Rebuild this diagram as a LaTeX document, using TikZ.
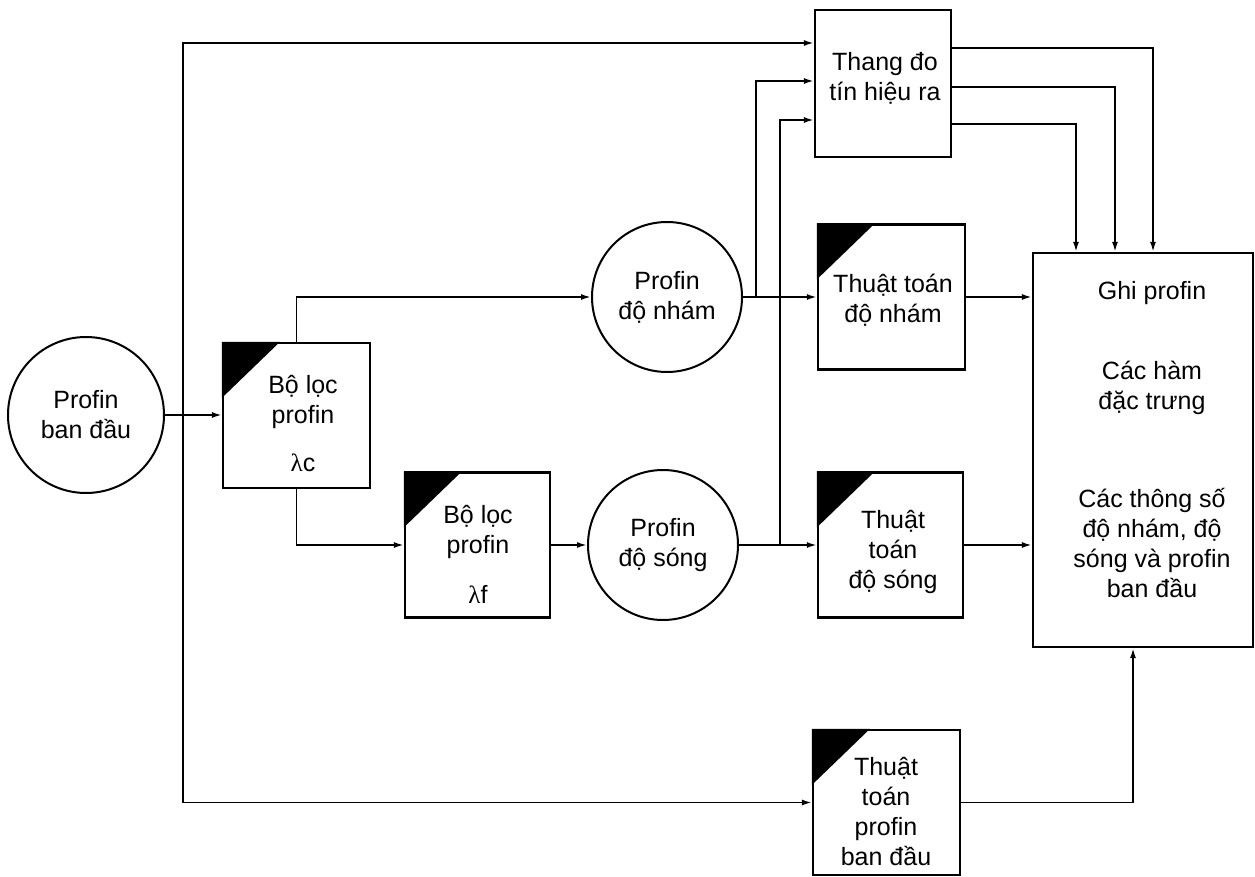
\documentclass[tikz,border=0pt]{standalone}
\usepackage{fontspec}
\setmainfont{Liberation Sans}
\newfontfamily\lamfont{Liberation Serif}
\usetikzlibrary{arrows.meta}
\tikzset{
  bx/.style={draw, line width=2.2pt, rectangle, inner sep=0pt, fill=white},
  circ/.style={draw, line width=2pt, circle, inner sep=0pt, minimum size=#1, align=center,
    font=\fontsize{25}{30}\selectfont},
  txt/.style={align=center, inner sep=0pt, font=\fontsize{25}{30}\selectfont},
  arr/.style={line width=1.8pt, -{Latex[length=10pt,width=6pt]}},
}
\newcommand{\corner}[1]{\fill (#1.north west) -- ++(58,0) -- ++(-58,56) -- cycle;}
\newcommand{\lam}{{\lamfont λ}}
\begin{document}
\begin{tikzpicture}[x=1pt,y=-1pt]
\useasboundingbox (0,0) rectangle (1255,877);
% nodes
\node[circ=156pt] (c0) at (86,415) {Profin\\ban đầu};
\node[bx, minimum width=147pt, minimum height=145pt] (f1) at (296.5,415.5) {};
\node[bx, minimum width=145pt, minimum height=145pt] (f2) at (477.5,545) {};
\node[circ=150pt] (cn) at (667,297) {Profin\\độ nhám};
\node[circ=150pt] (cs) at (663,545) {Profin\\độ sóng};
\node[bx, minimum width=136pt, minimum height=147pt] (td) at (883,83.5) {};
\node[bx, minimum width=147pt, minimum height=145pt] (tn) at (891.5,297) {};
\node[bx, minimum width=145pt, minimum height=145pt] (ts) at (890.5,545) {};
\node[bx, minimum width=220pt, minimum height=394pt] (gb) at (1143,450) {};
\node[bx, minimum width=147pt, minimum height=145pt] (tb) at (886.5,802.5) {};
% corners
\corner{f1}
\corner{f2}
\corner{tn}
\corner{ts}
\corner{tb}
% texts
\node[txt] (f1t) at (303,424) {Bộ lọc\\profin\\[18pt]\lam c};
\node[txt] (f2t) at (478,554) {Bộ lọc\\profin\\[20pt]\lam f};
\node[txt] (tdt) at (885,78) {Thang đo\\tín hiệu ra};
\node[txt] (tnt) at (893,300) {Thuật toán\\độ nhám};
\node[txt] (tst) at (893,552) {Thuật\\toán\\độ sóng};
\node[txt] (tbt) at (886,812) {Thuật\\toán\\profin\\ban đầu};
\node[txt] (g1) at (1152,293) {Ghi profin};
\node[txt] (g2) at (1152,388) {Các hàm\\đặc trưng};
\node[txt] (g3) at (1152,543) {Các thông số\\độ nhám, độ\\sóng và profin\\ban đầu};
% junctions
\coordinate (j0) at (183,415);
\coordinate (j1) at (756,297);
\coordinate (j2) at (780,545);
% connectors
\draw[arr] (c0.east) -- (f1.west |- c0.east);
\draw[arr] (j0) |- ([yshift=40.5pt]td.west);
\draw[arr] (j0) |- (tb.west);
\draw[arr] (f1.north) |- (cn.west);
\draw[arr] (f1.south) |- (f2.west);
\draw[arr] (f2.east) -- (cs.west);
\draw[arr] (cn.east) -- (tn.west);
\draw[arr] (cs.east) -- (ts.west);
\draw[arr] (j1) |- ([yshift=2.5pt]td.west);
\draw[arr] (j2) |- ([yshift=-36.5pt]td.west);
\draw[arr] ([yshift=35.5pt]td.east) -| ([xshift=10pt]gb.north);
\draw[arr] ([yshift=-3.5pt]td.east) -| ([xshift=-28pt]gb.north);
\draw[arr] ([yshift=-40.5pt]td.east) -| ([xshift=-67pt]gb.north);
\draw[arr] (tn.east) -- (tn.east -| gb.west);
\draw[arr] (ts.east) -- (ts.east -| gb.west);
\draw[arr] (tb.east) -| ([xshift=-10pt]gb.south);
\end{tikzpicture}
\end{document}
